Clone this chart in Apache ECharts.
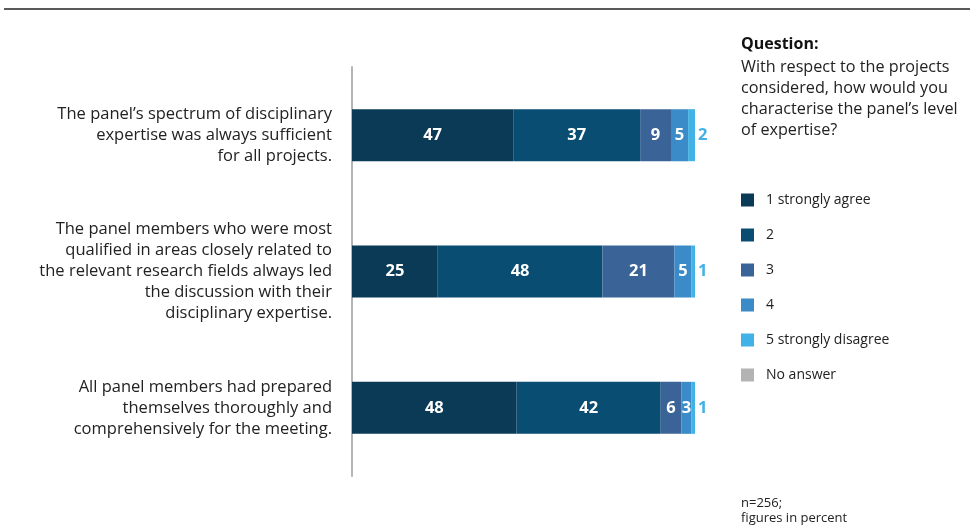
<!DOCTYPE html>
<html>
<head>
<meta charset="utf-8">
<script src="https://cdn.jsdelivr.net/npm/echarts@6/dist/echarts.min.js"></script>
<style>
  html, body { margin: 0; padding: 0; background: #fff; }
  #chart { width: 970px; height: 530px; }
</style>
</head>
<body>
<div id="chart"></div>
<script>
var statements = [
    'The panel’s spectrum of disciplinary\nexpertise was always sufficient\nfor all projects.',
    'The panel members who were most\nqualified in areas closely related to\nthe relevant research fields always led\nthe discussion with their\ndisciplinary expertise.',
    'All panel members had prepared\nthemselves thoroughly and\ncomprehensively for the meeting.'
];
var answerNames = ['1 strongly agree', '2', '3', '4', '5 strongly disagree', 'No answer'];
var answerColors = ['#0b3a56', '#0a4d73', '#3a6498', '#3a8bc7', '#41b1e6', '#b3b3b3'];
var strongAgree = [47, 25, 48];
var agree = [37, 48, 42];
var neutral = [9, 21, 6];
var disagree = [5, 5, 3];
var strongDisagree = [2, 1, 1];
var noAnswer = [0, 0, 0];
var valueLists = [strongAgree, agree, neutral, disagree, strongDisagree, noAnswer];

var font = 'Open Sans';
var chart = echarts.init(document.getElementById('chart'));

var series = answerNames.map(function (name, i) {
    var isLast = i === 4;
    return {
        name: name,
        type: 'bar',
        stack: 'total',
        barWidth: 52,
        data: valueLists[i],
        itemStyle: { color: answerColors[i] },
        label: {
            show: i < 5,
            position: isLast ? 'right' : 'inside',
            distance: 3,
            color: isLast ? answerColors[4] : '#fff',
            fontFamily: font,
            fontWeight: 'bold',
            fontSize: 16.5,
            formatter: function (p) { return p.value ? String(p.value) : ''; }
        }
    };
});

var option = {
    animation: false,
    textStyle: { fontFamily: font },
    grid: { left: 352, top: 67, width: 343, height: 409 },
    xAxis: {
        type: 'value',
        min: 0,
        max: 100,
        show: false
    },
    yAxis: {
        type: 'category',
        inverse: true,
        data: statements,
        axisLine: { show: true, lineStyle: { color: '#b5b5b5', width: 2 } },
        axisTick: { show: false },
        axisLabel: {
            margin: 20,
            align: 'right',
            color: '#222',
            fontFamily: font,
            fontSize: 16.5,
            lineHeight: 21
        }
    },
    legend: {
        orient: 'vertical',
        left: 741,
        top: 193,
        padding: 0,
        itemWidth: 13,
        itemHeight: 13,
        itemGap: 21,
        icon: 'rect',
        data: answerNames,
        textStyle: { fontFamily: font, fontSize: 14, color: '#222', padding: [0, 0, 0, 7] }
    },
    graphic: [
        {
            type: 'line',
            shape: { x1: 4, y1: 9, x2: 970, y2: 9 },
            style: { stroke: '#5a5a5a', lineWidth: 2 }
        },
        {
            type: 'text',
            left: 741,
            top: 36,
            style: { text: 'Question:', font: 'bold 16px "Open Sans"', fill: '#111' }
        },
        {
            type: 'text',
            left: 741,
            top: 57,
            style: {
                text: 'With respect to the projects\nconsidered, how would you\ncharacterise the panel’s level\nof expertise?',
                font: '16.2px "Open Sans"',
                lineHeight: 21,
                fill: '#222'
            }
        },
        {
            type: 'text',
            left: 741,
            top: 496,
            style: {
                text: 'n=256;\nfigures in percent',
                font: '13px "Open Sans"',
                lineHeight: 15,
                fill: '#222'
            }
        }
    ],
    series: series
};
chart.setOption(option);
</script>
</body>
</html>
